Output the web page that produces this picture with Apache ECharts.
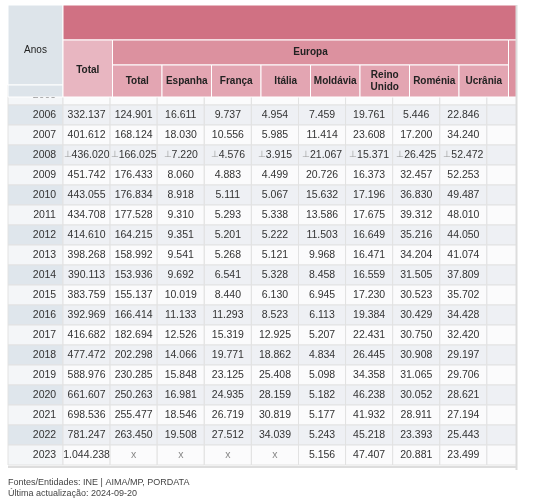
<!DOCTYPE html><html><head><meta charset="utf-8">
<script src="https://cdn.jsdelivr.net/npm/echarts@6/dist/echarts.min.js"></script>
<style>html,body{margin:0;background:#fff}#c{width:534px;height:500px}</style></head><body><div id="c"></div>
<script>
const years=['2005','2006','2007','2008','2009','2010','2011','2012','2013','2014','2015','2016','2017','2018','2019','2020','2021','2022','2023'];
const colNames=['Anos','Total','Total','Espanha','França','Itália','Moldávia','Reino\nUnido','Roménia','Ucrânia',''];
const total=['','332.137','401.612','436.020','451.742','443.055','434.708','414.610','398.268','390.113','383.759','392.969','416.682','477.472','588.976','661.607','698.536','781.247','1.044.238'];
const europa=['','124.901','168.124','166.025','176.433','176.834','177.528','164.215','158.992','153.936','155.137','166.414','182.694','202.298','230.285','250.263','255.477','263.450','x'];
const espanha=['','16.611','18.030','7.220','8.060','8.918','9.310','9.351','9.541','9.692','10.019','11.133','12.526','14.066','15.848','16.981','18.546','19.508','x'];
const franca=['','9.737','10.556','4.576','4.883','5.111','5.293','5.201','5.268','6.541','8.440','11.293','15.319','19.771','23.125','24.935','26.719','27.512','x'];
const italia=['','4.954','5.985','3.915','4.499','5.067','5.338','5.222','5.121','5.328','6.130','8.523','12.925','18.862','25.408','28.159','30.819','34.039','x'];
const moldavia=['','7.459','11.414','21.067','20.726','15.632','13.586','11.503','9.968','8.458','6.945','6.113','5.207','4.834','5.098','5.182','5.177','5.243','5.156'];
const reinoUnido=['','19.761','23.608','15.371','16.373','17.196','17.675','16.649','16.471','16.559','17.230','19.384','22.431','26.445','34.358','46.238','41.932','45.218','47.407'];
const romenia=['','5.446','17.200','26.425','32.457','36.830','39.312','35.216','34.204','31.505','30.523','30.429','30.750','30.908','31.065','30.052','28.911','23.393','20.881'];
const ucrania=['','22.846','34.240','52.472','52.253','49.487','48.010','44.050','41.074','37.809','35.702','34.428','32.420','29.197','29.706','28.621','27.194','25.443','23.499'];
const breakYear='2008';
const cols=[years,total,europa,espanha,franca,italia,moldavia,reinoUnido,romenia,ucrania,years.map(()=> '')];
const data0=[],data1=[];
years.forEach((v,y)=>data0.push([0,y]));
cols.slice(1).forEach((c,x)=>c.forEach((v,y)=>data1.push([x,y])));
const chart=echarts.init(document.getElementById('c'));
const L=8,W0=55,W=49.5,font='Liberation Sans, Arial, sans-serif';
const cx=i=>i===0?L:L+W0+W*(i-1);
const g=[];
function rect(x,y,w,h,fill){g.push({type:'rect',shape:{x,y,width:w,height:h},style:{fill,stroke:'#fff',lineWidth:1},z:10});}
function txt(x,y,t,opt){g.push({type:'text',x,y,style:Object.assign({text:t,font:'bold 10px '+font,fill:'#222',align:'center',verticalAlign:'middle'},opt||{}),z:11});}
rect(L,5,W0,80,'#dde4ea');rect(L,85,W0,12,'#dde4ea');txt(L+W0/2,50,'Anos',{font:'10px '+font});
rect(cx(1),5,520,35,'#d07183');
rect(cx(1),40,W,57,'#e8b6c1');txt(cx(1)+W/2,70,'Total');
rect(cx(2),40,W*8,25,'#dc919f');txt(cx(2)+W*4,52,'Europa');
rect(cx(10),40,W,57,'#dc919f');
for(let i=2;i<10;i++){rect(cx(i),65,W,32,'#e3a5b2');txt(cx(i)+W/2,81,colNames[i],{lineHeight:12});}
g.push({type:'rect',shape:{x:517,y:0,width:20,height:470},style:{fill:'#fff'},z:12});
g.push({type:'line',shape:{x1:516.5,y1:5,x2:516.5,y2:470},style:{stroke:'#ddd',lineWidth:2},z:12});
g.push({type:'line',shape:{x1:8,y1:467,x2:517,y2:467},style:{stroke:'#ddd',lineWidth:2},z:12});
txt(8,483,'Fontes/Entidades: INE | AIMA/MP, PORDATA',{font:'9px '+font,align:'left',fill:'#444'});
txt(8,494,'Última actualização: 2024-09-20',{font:'9px '+font,align:'left',fill:'#444'});
function mk(off){return (p,api)=>{
   const x=api.value(0),y=api.value(1),ci=x+off,v=cols[ci][y];
   const c=api.coord([x,y]),s=api.size([1,1]);
   const odd=y%2===1;
   const fill=ci===0?(odd?'#dfe6ec':'#f4f6f8'):(odd?'#eef0f4':'#fbfbfc');
   const ch=[{type:'rect',shape:{x:c[0]-s[0]/2,y:c[1]-s[1]/2,width:s[0],height:s[1]},style:{fill,stroke:'#e2e2e2',lineWidth:1}}];
   const brk=years[y]===breakYear&&ci>0&&v!=='';
   ch.push({type:'text',x:c[0]+(ci===0?9:0),y:c[1],style:{text:brk?'{b|⊥}'+v:v,rich:{b:{fill:'#999',font:'9px '+font}},font:'10.5px '+font,fill:v==='x'?'#888':'#333',align:'center',verticalAlign:'middle'}});
   return {type:'group',children:ch};
 };}
chart.setOption({
 animation:false,
 grid:[{left:L,top:85,width:W0,height:380},{left:L+W0,top:85,width:W*10,height:380}],
 xAxis:[{type:'category',data:['Anos'],show:false,gridIndex:0},{type:'category',data:colNames.slice(1),show:false,gridIndex:1}],
 yAxis:[{type:'category',data:years,inverse:true,show:false,gridIndex:0},{type:'category',data:years,inverse:true,show:false,gridIndex:1}],
 series:[{type:'custom',data:data0,xAxisIndex:0,yAxisIndex:0,encode:{x:0,y:1},renderItem:mk(0)},
         {type:'custom',data:data1,xAxisIndex:1,yAxisIndex:1,encode:{x:0,y:1},renderItem:mk(1)}],
 graphic:g
});
</script></body></html>
